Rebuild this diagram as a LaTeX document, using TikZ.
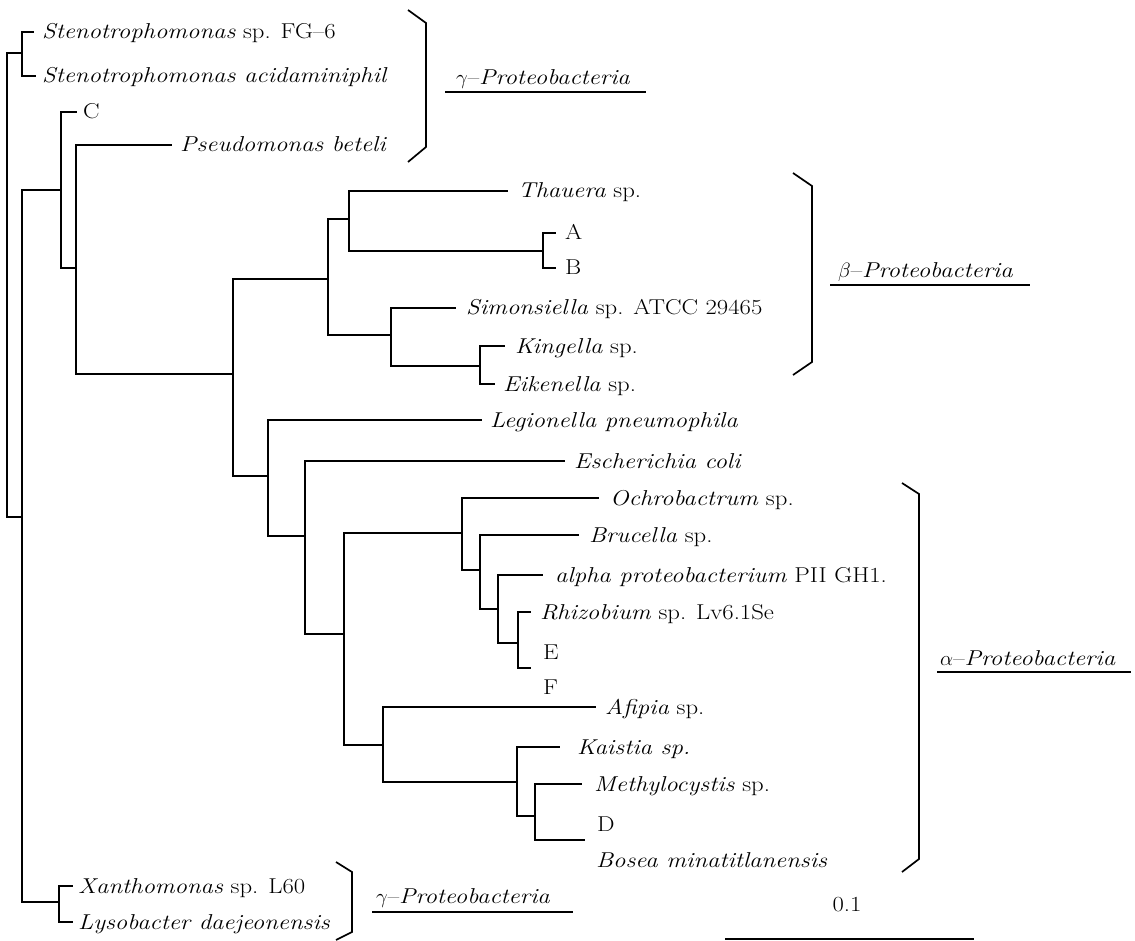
\documentclass[tikz,border=0pt]{standalone}
\usepackage{fontspec}
\setmainfont{Latin Modern Roman}[FakeStretch=1.15]
\begin{document}
\begin{tikzpicture}[x=1pt,y=-1pt,
  br/.style={line width=1.1pt},
  brk/.style={line width=1.7pt, line join=miter},
  ul/.style={line width=1.3pt},
  leaf/.style={anchor=base west, inner sep=0pt, font=\fontsize{21.5}{25}\selectfont},
  lab/.style={anchor=base west, inner sep=0pt, font=\fontsize{21.5}{25}\selectfont}]
\useasboundingbox (0,0) rectangle (1135,941);
% internal nodes
\coordinate (root) at (7,285);
\coordinate (nS) at (22,53);
\coordinate (nX) at (22,517);
\coordinate (nC) at (61,190);
\coordinate (nP) at (76,268);
\coordinate (nB) at (233,374);
\coordinate (nBeta) at (328,279);
\coordinate (nTh) at (349,219);
\coordinate (nAB) at (543,251);
\coordinate (nSim) at (391,335);
\coordinate (nK) at (480,366);
\coordinate (nL) at (268,476);
\coordinate (nE) at (305,536);
\coordinate (nA) at (344,634);
\coordinate (nO) at (462,533);
\coordinate (nBr) at (480,570);
\coordinate (nal) at (498,609);
\coordinate (nR) at (518,643);
\coordinate (nAf) at (383,745);
\coordinate (nKa) at (517,782);
\coordinate (nM) at (535,816);
\coordinate (nXan) at (59,902);
% leaf tips
\coordinate (tFG) at (34,32);
\coordinate (tAc) at (36,76);
\coordinate (tCc) at (77,112);
\coordinate (tPs) at (172,145);
\coordinate (tTh) at (508,191);
\coordinate (tA) at (556,233);
\coordinate (tB) at (556,268);
\coordinate (tSi) at (456,308);
\coordinate (tKi) at (505,346);
\coordinate (tEi) at (495,384);
\coordinate (tLe) at (482,420);
\coordinate (tEc) at (565,461);
\coordinate (tOc) at (599,498);
\coordinate (tBr) at (579,535);
\coordinate (tAl) at (543,575);
\coordinate (tRh) at (531,612);
\coordinate (tRb) at (531,668);
\coordinate (tAf) at (596,707);
\coordinate (tKa) at (560,747);
\coordinate (tMe) at (582,784);
\coordinate (tMb) at (585,840);
\coordinate (tXa) at (73,886);
\coordinate (tLy) at (73,922);
% leaf labels
\node[leaf] (FG) at (42,39) {\textit{Stenotrophomonas} sp. FG--6};
\node[leaf] (Ac) at (42,83) {\textit{Stenotrophomonas acidaminiphil}};
\node[leaf] (Cc) at (83,119) {C};
\node[leaf] (Ps) at (180,152) {\textit{Pseudomonas beteli}};
\node[leaf] (Th) at (518,198) {\textit{Thauera} sp.};
\node[leaf] (A) at (565,240) {A};
\node[leaf] (B) at (565,275) {B};
\node[leaf] (Si) at (466,315) {\textit{Simonsiella} sp. ATCC 29465};
\node[leaf] (Ki) at (515,353) {\textit{Kingella} sp.};
\node[leaf] (Ei) at (503,391) {\textit{Eikenella} sp.};
\node[leaf] (Le) at (490,427) {\textit{Legionella pneumophila}};
\node[leaf] (Ec) at (574,468) {\textit{Escherichia coli}};
\node[leaf] (Oc) at (610,505) {\textit{Ochrobactrum} sp.};
\node[leaf] (Br) at (589,542) {\textit{Brucella} sp.};
\node[leaf] (Al) at (555,582) {\textit{alpha proteobacterium} PII GH1.};
\node[leaf] (Rh) at (540,619) {\textit{Rhizobium} sp. Lv6.1Se};
\node[leaf] (E) at (543,659) {E};
\node[leaf] (F) at (543,694) {F};
\node[leaf] (Af) at (605,714) {\textit{Afipia} sp.};
\node[leaf] (Ka) at (577,754) {\textit{Kaistia sp.}};
\node[leaf] (Me) at (594,791) {\textit{Methylocystis} sp.};
\node[leaf] (D) at (597,831) {D};
\node[leaf] (Bo) at (596,867) {\textit{Bosea minatitlanensis}};
\node[leaf] (Xa) at (78,893) {\textit{Xanthomonas} sp. L60};
\node[leaf] (Ly) at (78,929) {\textit{Lysobacter daejeonensis}};
% branches
\draw[br] (root) |- (nS);  \draw[br] (root) |- (nX);
\draw[br] (nS) |- (tFG);   \draw[br] (nS) |- (tAc);
\draw[br] (nX) |- (nC);    \draw[br] (nX) |- (nXan);
\draw[br] (nC) |- (tCc);   \draw[br] (nC) |- (nP);
\draw[br] (nP) |- (tPs);   \draw[br] (nP) |- (nB);
\draw[br] (nB) |- (nBeta); \draw[br] (nB) |- (nL);
\draw[br] (nBeta) |- (nTh);\draw[br] (nBeta) |- (nSim);
\draw[br] (nTh) |- (tTh);  \draw[br] (nTh) |- (nAB);
\draw[br] (nAB) |- (tA);   \draw[br] (nAB) |- (tB);
\draw[br] (nSim) |- (tSi); \draw[br] (nSim) |- (nK);
\draw[br] (nK) |- (tKi);   \draw[br] (nK) |- (tEi);
\draw[br] (nL) |- (tLe);   \draw[br] (nL) |- (nE);
\draw[br] (nE) |- (tEc);   \draw[br] (nE) |- (nA);
\draw[br] (nA) |- (nO);    \draw[br] (nA) |- (nAf);
\draw[br] (nO) |- (tOc);   \draw[br] (nO) |- (nBr);
\draw[br] (nBr) |- (tBr);  \draw[br] (nBr) |- (nal);
\draw[br] (nal) |- (tAl);  \draw[br] (nal) |- (nR);
\draw[br] (nR) |- (tRh);   \draw[br] (nR) |- (tRb);
\draw[br] (nAf) |- (tAf);  \draw[br] (nAf) |- (nKa);
\draw[br] (nKa) |- (tKa);  \draw[br] (nKa) |- (nM);
\draw[br] (nM) |- (tMe);   \draw[br] (nM) |- (tMb);
\draw[br] (nXan) |- (tXa); \draw[br] (nXan) |- (tLy);
% brackets
\draw[brk] (408,10) -- (426,23) -- (426,147) -- (408,162);
\draw[brk] (793,173) -- (812,186) -- (812,362) -- (793,375);
\draw[brk] (902,483) -- (919,494) -- (919,859) -- (902,872);
\draw[brk] (336,862) -- (352,872) -- (352,932) -- (336,940);
% group labels
\node[lab] (g1) at (456,85) {$\gamma$--\textit{Proteobacteria}};
\draw[ul] (445,92) -- (646,92);
\node[lab] (bt) at (838,278) {$\beta$--\textit{Proteobacteria}};
\draw[ul] (830,285) -- (1030,285);
\node[lab] (al) at (940,665) {$\alpha$--\textit{Proteobacteria}};
\draw[ul] (937,672) -- (1131,672);
\node[lab] (g2) at (376,903) {$\gamma$--\textit{Proteobacteria}};
\draw[ul] (372,912) -- (573,912);
% scale bar
\node[lab, anchor=base] (sc) at (847,911) {0.1};
\draw[ul] (725,939) -- (974,939);
\end{tikzpicture}
\end{document}
